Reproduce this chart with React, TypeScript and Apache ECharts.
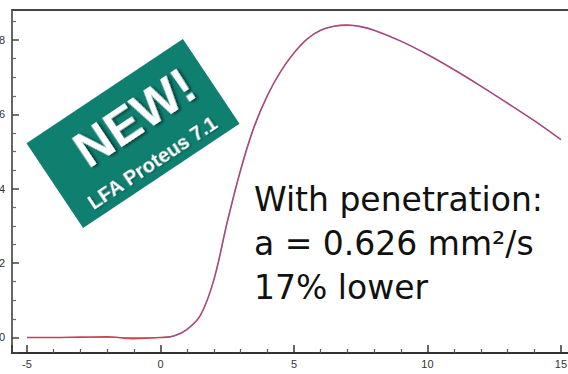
import { useEffect, useRef } from "react";
import * as echarts from "echarts";

// Time axis (s) and normalized detector signal
const timeS = [-5, -4, -3, -2, -1, 0, 0.5, 1, 1.5, 2, 2.5, 3, 3.5, 4, 4.5, 5, 5.5, 6, 6.5, 7, 7.5, 8, 9, 10, 11, 12, 13, 14, 15];
const measured = [0, 0, 0.001, 0.002, -0.003, 0, 0.004, 0.022, 0.06, 0.155, 0.31, 0.45, 0.565, 0.65, 0.715, 0.765, 0.803, 0.826, 0.837, 0.84, 0.836, 0.826, 0.797, 0.761, 0.72, 0.676, 0.63, 0.583, 0.532];
const fitted = [0, 0, 0, 0, 0, 0, 0.004, 0.022, 0.06, 0.155, 0.31, 0.45, 0.565, 0.65, 0.715, 0.765, 0.803, 0.826, 0.837, 0.84, 0.836, 0.826, 0.797, 0.761, 0.72, 0.676, 0.63, 0.583, 0.532];

const xRange = [-5.56, 15.5];
const yRange = [-0.0417, 0.8807];

const noteLines = ["With penetration:", "a = 0.626 mm²/s", "17% lower"];
const badgeTitle = "NEW!";
const badgeSubtitle = "LFA Proteus 7.1";

export default function App() {
  const ref = useRef<HTMLDivElement>(null);
  useEffect(() => {
    const chart = echarts.init(ref.current!, null, { renderer: "svg" });
    chart.setOption({
      animation: false,
      backgroundColor: "#fff",
      grid: {
        left: 12,
        top: 10,
        right: 25.7,
        bottom: 21,
        show: true,
        borderColor: "#444",
        borderWidth: 2,
        containLabel: false,
        outerBoundsMode: "none",
      },
      xAxis: {
        type: "value",
        min: xRange[0],
        max: xRange[1],
        axisLine: { show: true, onZero: false, lineStyle: { color: "#333", width: 2 } },
        axisTick: { show: true, inside: true, length: 8, lineStyle: { color: "#333", width: 1.5 } },
        minorTick: { show: true, splitNumber: 5, length: 4, lineStyle: { color: "#555", width: 1.2 } },
        splitLine: { show: false },
        axisLabel: {
          showMinLabel: false,
          showMaxLabel: false,
          margin: 5,
          color: "#333",
          fontSize: 11,
          fontFamily: "Liberation Sans",
        },
      },
      yAxis: {
        type: "value",
        min: yRange[0],
        max: yRange[1],
        axisLine: { show: true, onZero: false, lineStyle: { color: "#666", width: 2 } },
        axisTick: { show: true, inside: true, length: 7, lineStyle: { color: "#444", width: 1.5 } },
        minorTick: { show: true, splitNumber: 4, length: 4, lineStyle: { color: "#666", width: 1.2 } },
        splitLine: { show: false },
        axisLabel: {
          showMinLabel: false,
          showMaxLabel: false,
          margin: 7,
          color: "#333",
          fontSize: 11,
          fontFamily: "Liberation Sans",
        },
      },
      series: [
        {
          name: "Measured",
          type: "line",
          data: timeS.map((t, i) => [t, measured[i]]),
          showSymbol: false,
          smooth: 0.35,
          lineStyle: { color: "#d64550", width: 1.6 },
          clip: true,
        },
        {
          name: "Fit",
          type: "line",
          data: timeS.map((t, i) => [t, fitted[i]]),
          showSymbol: false,
          smooth: 0.35,
          lineStyle: { color: "#5a5ad0", width: 1, opacity: 0.7 },
          clip: true,
        },
      ],
      graphic: [
        {
          type: "group",
          x: 133,
          y: 133.5,
          rotation: 0.588,
          children: [
            {
              type: "rect",
              shape: { x: -94, y: -51, width: 188, height: 102 },
              style: { fill: "#0f7f70" },
            },
            {
              type: "text",
              x: 10,
              y: -12,
              style: {
                text: badgeTitle,
                font: 'bold 50px "Liberation Sans"',
                fill: "#fff",
                align: "center",
                verticalAlign: "middle",
                textShadowColor: "rgba(0,0,0,0.55)",
                textShadowBlur: 3,
                textShadowOffsetX: 2,
                textShadowOffsetY: 2,
              },
            },
            {
              type: "text",
              x: 0,
              y: 35,
              style: {
                text: badgeSubtitle,
                font: 'bold 20px "Liberation Sans"',
                fill: "#fff",
                align: "center",
                verticalAlign: "middle",
                textShadowColor: "rgba(0,0,0,0.45)",
                textShadowBlur: 2,
                textShadowOffsetX: 1,
                textShadowOffsetY: 1,
              },
            },
          ],
        },
        {
          type: "text",
          x: 254,
          y: 177,
          style: {
            text: noteLines.join("\n"),
            font: '33px "DejaVu Sans"',
            lineHeight: 44,
            fill: "#111",
          },
        },
      ],
    });
    return () => chart.dispose();
  }, []);
  return (
    <div style={{ position: "fixed", left: 0, top: 0, width: 568, height: 374, overflow: "hidden", background: "#fff" }}>
      <div ref={ref} style={{ width: 600, height: 374 }} />
    </div>
  );
}
